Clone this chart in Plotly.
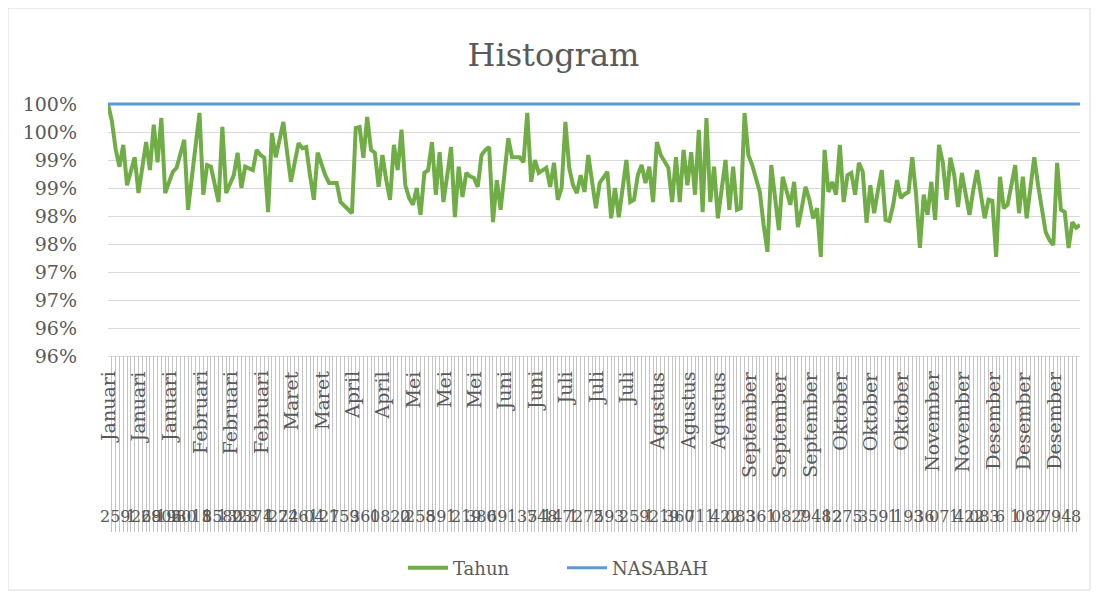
import plotly.graph_objects as go

# ---------------- data ----------------
months = ["Januari", "Februari", "Maret", "April", "Mei", "Juni", "Juli",
          "Agustus", "September", "Oktober", "November", "Desember"]
month_counts = [24, 24, 16, 16, 24, 16, 24, 24, 24, 24, 16, 24]

tahun = [
    100.00, 99.70, 99.20, 98.88, 99.27, 98.55, 98.80, 99.05, 98.41, 98.86, 99.32, 98.82, 99.63, 98.96, 99.75, 98.41,
    98.59, 98.79, 98.86, 99.11, 99.36, 98.11, 98.73, 99.29, 99.84, 98.38, 98.91, 98.88, 98.55, 98.25, 99.59, 98.41,
    98.57, 98.73, 99.13, 98.50, 98.88, 98.84, 98.82, 99.18, 99.09, 99.04, 98.07, 99.48, 99.05, 99.36, 99.68, 99.13,
    98.61, 98.96, 99.30, 99.21, 99.23, 98.73, 98.29, 99.13, 98.91, 98.73, 98.59, 98.59, 98.59, 98.25, 98.18, 98.11,
    98.05, 99.57, 99.59, 99.04, 99.77, 99.18, 99.13, 98.52, 99.09, 98.64, 98.29, 99.27, 98.82, 99.54, 98.55, 98.32,
    98.20, 98.50, 98.02, 98.77, 98.82, 99.32, 98.38, 99.14, 98.25, 98.73, 99.23, 97.98, 98.88, 98.34, 98.77, 98.71,
    98.68, 98.52, 99.09, 99.18, 99.23, 97.89, 98.64, 98.11, 98.73, 99.39, 99.05, 99.05, 99.05, 98.96, 99.84, 98.61,
    99.00, 98.77, 98.82, 98.86, 98.52, 98.95, 98.29, 98.50, 99.68, 98.86, 98.55, 98.41, 98.73, 98.43, 99.09, 98.55,
    98.14, 98.59, 98.68, 98.79, 97.96, 98.50, 97.98, 98.46, 99.00, 98.25, 98.29, 98.73, 98.91, 98.59, 98.88, 98.25,
    99.32, 99.09, 98.96, 98.86, 98.25, 99.05, 98.25, 99.18, 98.55, 99.14, 98.38, 99.54, 98.07, 99.75, 98.25, 98.88,
    97.96, 98.46, 99.00, 98.11, 98.88, 98.11, 98.14, 99.84, 99.09, 98.91, 98.64, 98.43, 97.84, 97.36, 98.91, 98.29,
    97.75, 98.70, 98.43, 98.20, 98.61, 97.80, 98.14, 98.52, 98.29, 97.96, 98.14, 97.27, 99.18, 98.43, 98.61, 98.38,
    99.27, 98.25, 98.73, 98.77, 98.38, 98.95, 98.79, 97.88, 98.55, 98.05, 98.46, 98.82, 97.93, 97.91, 98.20, 98.64,
    98.32, 98.39, 98.43, 99.05, 98.38, 97.43, 98.38, 98.02, 98.61, 97.93, 99.27, 98.96, 98.29, 99.04, 98.73, 98.16,
    98.77, 98.38, 98.02, 98.46, 98.82, 98.38, 97.96, 98.29, 98.27, 97.27, 98.70, 98.14, 98.20, 98.55, 98.91, 98.05,
    98.70, 97.96, 98.46, 99.05, 98.55, 98.14, 97.71, 97.57, 97.48, 98.95, 98.11, 98.07, 97.43, 97.89, 97.79, 97.84,
]

nasabah = [
    100, 100, 100, 100, 100, 100, 100, 100, 100, 100, 100, 100, 100, 100, 100, 100,
    100, 100, 100, 100, 100, 100, 100, 100, 100, 100, 100, 100, 100, 100, 100, 100,
    100, 100, 100, 100, 100, 100, 100, 100, 100, 100, 100, 100, 100, 100, 100, 100,
    100, 100, 100, 100, 100, 100, 100, 100, 100, 100, 100, 100, 100, 100, 100, 100,
    100, 100, 100, 100, 100, 100, 100, 100, 100, 100, 100, 100, 100, 100, 100, 100,
    100, 100, 100, 100, 100, 100, 100, 100, 100, 100, 100, 100, 100, 100, 100, 100,
    100, 100, 100, 100, 100, 100, 100, 100, 100, 100, 100, 100, 100, 100, 100, 100,
    100, 100, 100, 100, 100, 100, 100, 100, 100, 100, 100, 100, 100, 100, 100, 100,
    100, 100, 100, 100, 100, 100, 100, 100, 100, 100, 100, 100, 100, 100, 100, 100,
    100, 100, 100, 100, 100, 100, 100, 100, 100, 100, 100, 100, 100, 100, 100, 100,
    100, 100, 100, 100, 100, 100, 100, 100, 100, 100, 100, 100, 100, 100, 100, 100,
    100, 100, 100, 100, 100, 100, 100, 100, 100, 100, 100, 100, 100, 100, 100, 100,
    100, 100, 100, 100, 100, 100, 100, 100, 100, 100, 100, 100, 100, 100, 100, 100,
    100, 100, 100, 100, 100, 100, 100, 100, 100, 100, 100, 100, 100, 100, 100, 100,
    100, 100, 100, 100, 100, 100, 100, 100, 100, 100, 100, 100, 100, 100, 100, 100,
    100, 100, 100, 100, 100, 100, 100, 100, 100, 100, 100, 100, 100, 100, 100, 100,
]

y_tick_vals = [95.5, 96.0, 96.5, 97.0, 97.5, 98.0, 98.5, 99.0, 99.5, 100.0]
y_tick_text = ["96%", "96%", "97%", "97%", "98%", "98%", "99%", "99%", "100%", "100%"]

kode = ["259", "1", "269", "2806", "1980", "2015", "8", "1580", "1328", "2371", "4", "224",
        "7261", "04", "27", "159", "36", "1", "0822", "0", "258", "59", "1", "219",
        "380", "69", "1", "35", "748", "147", "1", "272", "59", "3", "259", "1",
        "219", "360", "71", "1", "422", "083", "36", "1", "082", "7", "948", "12",
        "275", "3", "59", "1", "193", "36", "07", "1", "422", "083", "6", "1",
        "082", "7", "94", "8"]

label_step = 8
kode_step = 4

# ---------------- build ----------------
categories = []
for m, c in zip(months, month_counts):
    categories += [m] * c
x = list(range(len(tahun)))

OFF = 8                      # page body margin offset
W, H = 1099 - OFF, 596 - OFF
ML, MR = 108 - OFF, 19
PW = W - ML - MR
GREY = "#595959"
FONT = "DejaVu Serif"

def py(px):
    return (H - (px - OFF)) / H

def pxp(px):
    return (px - 108) / PW

fig = go.Figure()
fig.add_trace(go.Scatter(x=x, y=tahun, mode="lines", name="Tahun",
                         line=dict(color="#70ad47", width=4), xaxis="x", yaxis="y"))
fig.add_trace(go.Scatter(x=x, y=nasabah, mode="lines", name="NASABAH",
                         line=dict(color="#5b9bd5", width=3), xaxis="x", yaxis="y"))
# invisible trace to host the category-separator strip
fig.add_trace(go.Scatter(x=[x[0], x[-1]], y=[0.5, 0.5], mode="markers",
                         marker=dict(opacity=0), showlegend=False, hoverinfo="skip",
                         xaxis="x2", yaxis="y2"))

annotations = []
for i in range(0, len(x), label_step):
    annotations.append(dict(text=categories[i], x=x[i], xref="x", y=py(369), yref="paper",
                            xanchor="center", yanchor="top", textangle=-90, showarrow=False,
                            font=dict(family=FONT, size=19, color=GREY)))
for k, i in enumerate(range(kode_step // 2, len(x), kode_step)):
    annotations.append(dict(text=kode[k], x=x[i], xref="x", y=py(516), yref="paper",
                            xanchor="center", yanchor="middle", showarrow=False,
                            font=dict(family=FONT, size=16, color=GREY)))

fig.update_layout(
    width=W, height=H,
    paper_bgcolor="white", plot_bgcolor="white",
    margin=dict(l=ML, r=MR, t=0, b=0, autoexpand=False),
    title=dict(text="Histogram", x=0.5, xanchor="center", y=py(55), yanchor="middle",
               font=dict(family=FONT, size=32, color=GREY)),
    showlegend=True,
    legend=dict(orientation="h", x=pxp(562), xanchor="center", y=py(568), yanchor="middle",
                entrywidth=104, itemwidth=40,
                font=dict(family=FONT, size=18, color=GREY)),
    xaxis=dict(domain=[0, 1], range=[x[0], x[-1]], showticklabels=False, showgrid=False,
               zeroline=False, showline=True, linecolor="#d9d9d9", linewidth=1, anchor="y",
               automargin=False),
    yaxis=dict(domain=[py(356), py(101.2)], range=[95.5, 100.05], tickvals=y_tick_vals,
               ticktext=y_tick_text, showgrid=True, gridcolor="#d9d9d9", gridwidth=1,
               zeroline=False, showline=False, ticklabelstandoff=30, automargin=False,
               tickfont=dict(family=FONT, size=19, color=GREY), anchor="x"),
    xaxis2=dict(domain=[0, 1], matches="x", anchor="y2", showgrid=True, gridcolor="#c4c4c4",
                gridwidth=1, dtick=1, tick0=0, showticklabels=False, zeroline=False,
                showline=False, automargin=False),
    yaxis2=dict(domain=[py(532), py(356)], range=[0, 1], anchor="x2", showgrid=False,
                showticklabels=False, zeroline=False, showline=False, automargin=False),
    annotations=annotations,
    shapes=[dict(type="rect", xref="paper", yref="paper", x0=pxp(8), x1=pxp(1090),
                 y0=py(590), y1=py(8), line=dict(color="#d9d9d9", width=1),
                 fillcolor="rgba(0,0,0,0)", layer="below")],
)

fig.write_html("out.html")
